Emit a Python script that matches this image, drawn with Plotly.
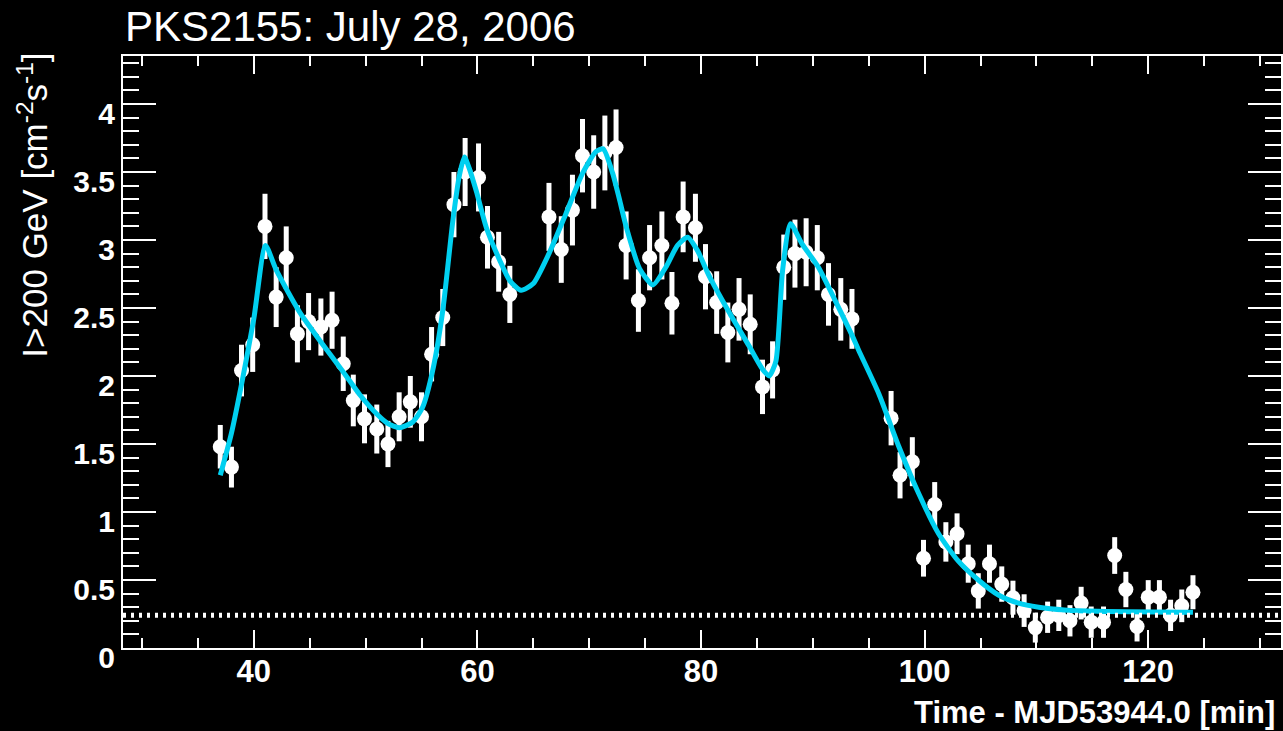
import plotly.graph_objects as go

# ---- data ----
time_min = [37.0, 38.0, 38.9, 39.9, 41.0, 42.0, 42.9, 43.9, 44.9, 46.0,
            47.0, 48.0, 48.9, 49.9, 51.0, 52.0, 53.0, 54.0, 55.0, 55.9,
            56.9, 57.9, 58.9, 60.1, 60.9, 61.9, 62.9, 66.4, 67.5, 68.5,
            69.4, 70.4, 71.4, 72.4, 73.3, 74.4, 75.4, 76.5, 77.4, 78.4,
            79.5, 80.4, 81.4, 82.4, 83.4, 84.4, 85.5, 86.4, 87.4, 88.4,
            89.4, 90.4, 91.4, 92.5, 93.5, 97.0, 97.8, 98.9, 99.9, 100.9,
            101.9, 102.9, 103.9, 104.8, 105.8, 106.9, 107.9, 108.9, 109.9, 111.0,
            112.0, 113.0, 114.0, 114.9, 116.0, 117.0, 118.0, 119.0, 120.0, 121.0,
            122.0, 123.0, 124.0]
flux = [1.48, 1.33, 2.04, 2.23, 3.10, 2.58, 2.87, 2.31, 2.40, 2.36,
        2.41, 2.09, 1.82, 1.685, 1.61, 1.50, 1.70, 1.81, 1.70, 2.16,
        2.43, 3.26, 3.50, 3.46, 3.02, 2.84, 2.60, 3.17, 2.93, 3.22,
        3.62, 3.50, 3.64, 3.68, 2.96, 2.555, 2.87, 2.96, 2.535, 3.17,
        3.09, 2.73, 2.54, 2.32, 2.49, 2.38, 1.92, 2.045, 2.80, 2.90,
        2.91, 2.87, 2.60, 2.49, 2.42, 1.69, 1.27, 1.37, 0.66, 1.055,
        0.78, 0.84, 0.62, 0.42, 0.62, 0.47, 0.37, 0.275, 0.15, 0.226,
        0.24, 0.20, 0.33, 0.19, 0.19, 0.68, 0.43, 0.158, 0.374, 0.374,
        0.24, 0.31, 0.41]
flux_err = [0.16, 0.15, 0.19, 0.20, 0.24, 0.22, 0.23, 0.21, 0.21, 0.21,
            0.21, 0.20, 0.19, 0.18, 0.18, 0.17, 0.18, 0.19, 0.18, 0.20,
            0.21, 0.24, 0.25, 0.25, 0.23, 0.22, 0.21, 0.25, 0.245, 0.26,
            0.27, 0.27, 0.275, 0.28, 0.25, 0.23, 0.24, 0.25, 0.23, 0.26,
            0.25, 0.24, 0.23, 0.22, 0.23, 0.22, 0.20, 0.21, 0.24, 0.25,
            0.25, 0.24, 0.23, 0.23, 0.22, 0.20, 0.17, 0.18, 0.135, 0.165,
            0.145, 0.15, 0.14, 0.13, 0.14, 0.13, 0.125, 0.12, 0.11, 0.115,
            0.115, 0.115, 0.12, 0.115, 0.115, 0.135, 0.13, 0.11, 0.125, 0.125,
            0.115, 0.12, 0.125]

# fitted light-curve model
fit_time = [37.0, 38.0, 39.0, 40.0, 41.05, 42.0, 44.1, 46.0, 48.0, 49.5,
            51.0, 52.0, 53.0, 54.2, 55.1, 56.0, 56.9, 57.8, 58.4, 58.84,
            59.3, 59.9, 60.8, 62.0, 62.9, 63.9, 65.0, 66.4, 67.9, 69.4,
            70.6, 71.25, 72.1, 72.7, 73.3, 74.5, 75.7, 76.85, 77.9, 78.8,
            79.7, 80.7, 82.5, 84.3, 85.5, 86.1, 86.7, 87.3, 88.0, 89.05,
            90.5, 92.0, 93.5, 94.1, 95.9, 97.7, 99.5, 101.25, 103.0, 104.8,
            106.6, 108.4, 110.2, 112.5, 115.5, 124.0]
fit_flux = [1.27, 1.58, 1.98, 2.42, 2.96, 2.78, 2.47, 2.25, 2.03, 1.86,
            1.72, 1.65, 1.62, 1.66, 1.77, 2.04, 2.48, 3.14, 3.48, 3.61,
            3.52, 3.36, 3.09, 2.85, 2.70, 2.63, 2.68, 2.90, 3.19, 3.49,
            3.65, 3.67, 3.49, 3.30, 3.10, 2.79, 2.67, 2.80, 2.96, 3.02,
            2.92, 2.74, 2.47, 2.22, 2.05, 2.00, 2.11, 2.78, 3.12, 2.97,
            2.80, 2.555, 2.30, 2.19, 1.87, 1.48, 1.13, 0.84, 0.64, 0.50,
            0.39, 0.33, 0.30, 0.28, 0.27, 0.263]

baseline = 0.24
x_ticks = [40, 60, 80, 100, 120]
y_ticks = [0, 0.5, 1, 1.5, 2, 2.5, 3, 3.5, 4]
y_tick_text = ["0", "0.5", "1", "1.5", "2", "2.5", "3", "3.5", "4"]

W, H = 1283, 731
ML, MR, MT, MB = 123, 0, 56, 83
X_RANGE = [28.30, 131.875]
Y_RANGE = [0, 4.353]

FONT = "Liberation Sans, Arial, Helvetica, sans-serif"
CYAN = "#00d0f0"

fig = go.Figure()

fig.add_trace(go.Scatter(
    x=time_min, y=flux, mode="markers",
    marker=dict(color="white", size=15, line=dict(width=0)),
    error_y=dict(type="data", array=flux_err, visible=True,
                 color="white", thickness=5, width=0),
    hoverinfo="x+y", showlegend=False,
))

fig.add_trace(go.Scatter(
    x=fit_time, y=fit_flux, mode="lines",
    line=dict(color=CYAN, width=5, shape="spline", smoothing=0.6),
    showlegend=False,
))

fig.add_shape(type="line", xref="paper", yref="y",
              x0=0, x1=1, y0=baseline, y1=baseline,
              line=dict(color="white", width=5, dash="3px,5px"))

axis_common = dict(
    showgrid=False, zeroline=False,
    showline=True, linecolor="white", linewidth=2,
    mirror="ticks", ticks="inside", tickcolor="white", tickwidth=2,
)

fig.update_xaxes(
    range=X_RANGE, tickvals=x_ticks, ticklen=18,
    tickfont=dict(family=FONT, size=31, color="white", weight="bold"),
    ticklabelstandoff=-5,
    minor=dict(dtick=5, tick0=0, ticks="inside", ticklen=10,
               tickcolor="white", tickwidth=2, showgrid=False),
    **axis_common,
)
fig.update_yaxes(
    range=Y_RANGE, tickvals=y_ticks, ticktext=y_tick_text, ticklen=33,
    tickfont=dict(family=FONT, size=30, color="white", weight="bold"),
    ticklabelshift=9,
    minor=dict(dtick=0.1, tick0=0, ticks="inside", ticklen=16,
               tickcolor="white", tickwidth=2, showgrid=False),
    **axis_common,
)

pw = W - ML - MR
ph = H - MT - MB

def px_x(px):
    return (px - ML) / pw

def px_y(py):
    return (H - MB - py) / ph

fig.add_annotation(
    text="PKS2155: July 28, 2006", xref="paper", yref="paper",
    x=px_x(123), y=px_y(26), xanchor="left", yanchor="middle",
    showarrow=False, font=dict(family=FONT, size=42, color="white"),
)
fig.add_annotation(
    text="Time - MJD53944.0 [min]", xref="paper", yref="paper",
    x=px_x(1279), y=px_y(712), xanchor="right", yanchor="middle",
    showarrow=False,
    font=dict(family=FONT, size=31, color="white", weight="bold"),
)
fig.add_annotation(
    text="I>200 GeV [cm<sup>-2</sup>s<sup>-1</sup>]", xref="paper", yref="paper",
    x=px_x(33), y=px_y(51), xanchor="center", yanchor="top", textangle=-90,
    showarrow=False, font=dict(family=FONT, size=35, color="white"),
)

fig.update_layout(
    width=W, height=H, autosize=False,
    margin=dict(l=ML, r=MR, t=MT, b=MB, pad=0),
    paper_bgcolor="black", plot_bgcolor="black",
    showlegend=False, hovermode="closest",
)

fig.write_html("out.html", include_plotlyjs=True, full_html=True,
               config={"displayModeBar": False})
